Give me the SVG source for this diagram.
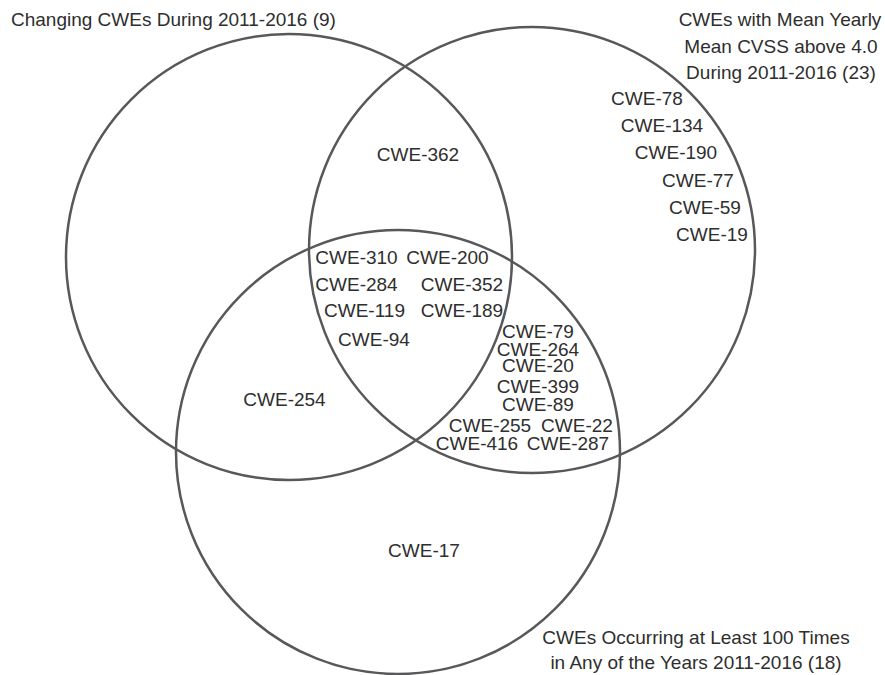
<svg xmlns="http://www.w3.org/2000/svg" width="885" height="675" viewBox="0 0 885 675">
<style>
.c{fill:none;stroke:#58585a;stroke-width:2.5}
text{font-family:"Liberation Sans",Arial,sans-serif;font-size:19px;fill:#2e2e2e}
.m{text-anchor:middle}
</style>
<rect width="885" height="675" fill="#fff"/>
<g id="set-changing">
<circle class="c" cx="289" cy="257" r="223"/>
<text x="11" y="26">Changing CWEs During 2011-2016 (9)</text>
</g>
<g id="set-cvss">
<circle class="c" cx="532" cy="250" r="223"/>
<text class="m" x="780" y="26">CWEs with Mean Yearly</text>
<text class="m" x="781" y="53">Mean CVSS above 4.0</text>
<text class="m" x="781" y="79">During 2011-2016 (23)</text>
</g>
<g id="set-occurring">
<circle class="c" cx="398" cy="452" r="222"/>
<text class="m" x="696" y="644">CWEs Occurring at Least 100 Times</text>
<text class="m" x="696" y="669">in Any of the Years 2011-2016 (18)</text>
</g>
<g id="labels">
<text class="m" x="418" y="161">CWE-362</text>
<text class="m" x="647" y="105">CWE-78</text>
<text class="m" x="662" y="132">CWE-134</text>
<text class="m" x="676" y="159">CWE-190</text>
<text class="m" x="698" y="187">CWE-77</text>
<text class="m" x="705" y="214">CWE-59</text>
<text class="m" x="712" y="241">CWE-19</text>
<text class="m" x="356.5" y="264">CWE-310</text>
<text class="m" x="447.5" y="264">CWE-200</text>
<text class="m" x="356.5" y="291">CWE-284</text>
<text class="m" x="462" y="291">CWE-352</text>
<text class="m" x="364.5" y="317">CWE-119</text>
<text class="m" x="462" y="317">CWE-189</text>
<text class="m" x="374" y="346">CWE-94</text>
<text class="m" x="538" y="338">CWE-79</text>
<text class="m" x="538" y="356">CWE-264</text>
<text class="m" x="538" y="372">CWE-20</text>
<text class="m" x="538" y="393">CWE-399</text>
<text class="m" x="538" y="411">CWE-89</text>
<text class="m" x="490" y="432">CWE-255</text>
<text class="m" x="577" y="432">CWE-22</text>
<text class="m" x="477" y="450">CWE-416</text>
<text class="m" x="568" y="450">CWE-287</text>
<text class="m" x="284.5" y="406">CWE-254</text>
<text class="m" x="424" y="557">CWE-17</text>
</g>
</svg>
